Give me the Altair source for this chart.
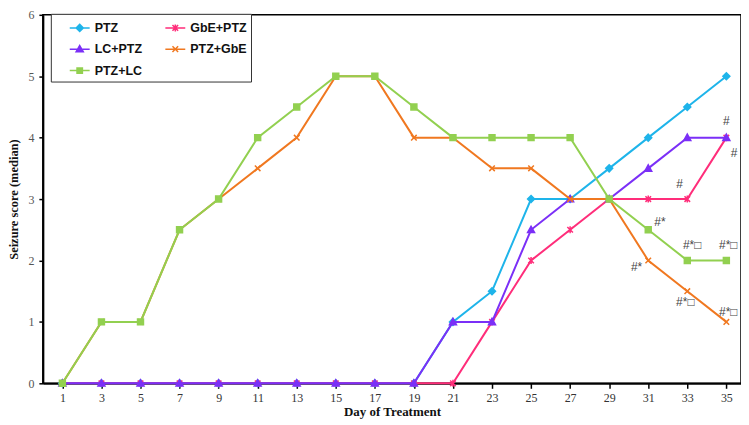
import altair as alt
import pandas as pd

days = list(range(1, 36, 2))
series_names = ["PTZ", "GbE+PTZ", "LC+PTZ", "PTZ+GbE", "PTZ+LC"]
ptz = [0, 0, 0, 0, 0, 0, 0, 0, 0, 0, 1, 1.5, 3, 3, 3.5, 4, 4.5, 5]
gbe_ptz = [0, 0, 0, 0, 0, 0, 0, 0, 0, 0, 0, 1, 2, 2.5, 3, 3, 3, 4]
lc_ptz = [0, 0, 0, 0, 0, 0, 0, 0, 0, 0, 1, 1, 2.5, 3, 3, 3.5, 4, 4]
ptz_gbe = [0, 1, 1, 2.5, 3, 3.5, 4, 5, 5, 4, 4, 3.5, 3.5, 3, 3, 2, 1.5, 1]
ptz_lc = [0, 1, 1, 2.5, 3, 4, 4.5, 5, 5, 4.5, 4, 4, 4, 4, 3, 2.5, 2, 2]
series_values = [ptz, gbe_ptz, lc_ptz, ptz_gbe, ptz_lc]

ann_x = [35, 35.4, 32.6, 31.6, 33.25, 35.1, 30.4, 32.9, 35.1]
ann_y = [4.27, 3.75, 3.24, 2.63, 2.25, 2.25, 1.9, 1.33, 1.16]
ann_text = ["#", "#", "#", "#*", "#*□", "#*□", "#*", "#*□", "#*□"]

colors = ["#1EB4EA", "#FF2D7A", "#7B2FF7", "#F07820", "#92D050"]

# marker paths for the plot (unit = 3.5px at size 49)
marker_paths = [
    "M0,-1L1,0L0,1L-1,0Z",
    "M-0.8,-0.8L0.8,0.8M-0.8,0.8L0.8,-0.8M0,-1V1",
    "M0,-1L1,0.8H-1Z",
    "M-0.8,-0.8L0.8,0.8M-0.8,0.8L0.8,-0.8",
    "M-0.85,-0.85H0.85V0.85H-0.85Z",
]
# legend symbol paths: line + marker (unit = 9px at size 324)
ln = "M0.556,0H2.778"
legend_paths = [
    ln + "M1.667,-0.4L2.067,0L1.667,0.4L1.267,0Z",
    ln + "M1.35,-0.32L1.98,0.32M1.35,0.32L1.98,-0.32M1.667,-0.4V0.4",
    ln + "M1.667,-0.4L2.067,0.3L1.267,0.3Z",
    ln + "M1.35,-0.32L1.98,0.32M1.35,0.32L1.98,-0.32",
    ln + "M1.367,-0.3H1.967V0.3H1.367Z",
]

rows = []
for name, vals in zip(series_names, series_values):
    for d, v in zip(days, vals):
        rows.append({"day": d, "score": v, "series": name})
df = pd.DataFrame(rows)
ann_df = pd.DataFrame({"x": ann_x, "y": ann_y, "t": ann_text})

x_enc = alt.X(
    "day:Q",
    scale=alt.Scale(domain=[0, 35.75], nice=False, zero=False),
    axis=alt.Axis(
        title="Day of Treatment",
        values=list(range(1, 36)),
        labelExpr="datum.value % 2 == 1 ? datum.label : ''",
        grid=False,
        tickSize=5,
        labelPadding=4,
        titlePadding=2,
        labelFont="Liberation Serif",
        labelFontSize=12,
        labelColor="#333333",
        titleFont="Liberation Serif",
        titleFontSize=13,
        titleFontWeight="bold",
        titleColor="#111111",
        domainColor="black",
        domainWidth=2,
        tickColor="black",
        tickWidth=1.5,
    ),
)
y_enc = alt.Y(
    "score:Q",
    scale=alt.Scale(domain=[0, 6], nice=False),
    axis=alt.Axis(
        title="Seizure score (median)",
        values=[0, 1, 2, 3, 4, 5, 6],
        format="d",
        grid=False,
        tickSize=4,
        labelPadding=5,
        titlePadding=7,
        labelFont="Liberation Serif",
        labelFontSize=12,
        labelColor="#555555",
        titleFont="Liberation Serif",
        titleFontSize=12.5,
        titleFontWeight="bold",
        titleColor="#111111",
        domainColor="black",
        domainWidth=2,
        tickColor="black",
        tickWidth=1.5,
    ),
)

color_scale = alt.Scale(domain=series_names, range=colors)

layers = []
for i, name in enumerate(series_names):
    sub = alt.Chart(df).transform_filter(alt.datum.series == name)
    line = sub.mark_line(strokeWidth=2, color=colors[i]).encode(x=x_enc, y=y_enc)
    pts = sub.mark_point(
        shape=marker_paths[i], size=49, filled=True, opacity=1,
        strokeWidth=1.5, fill=colors[i], stroke=colors[i],
    ).encode(x="day:Q", y="score:Q")
    layers += [line, pts]

leg = alt.Legend(
    title=None,
    orient="none",
    direction="horizontal",
    legendX=8,
    legendY=-1,
    columns=2,
    strokeColor="#333333",
    fillColor="white",
    padding=4,
    symbolSize=324,
    symbolStrokeWidth=1.5,
    symbolOpacity=1,
    labelOffset=20,
    columnPadding=8,
    rowPadding=4.5,
    labelFont="Liberation Sans",
    labelFontSize=12.5,
    labelFontWeight="bold",
    labelColor="#111111",
)
legend_layer = alt.Chart(df).transform_filter("false").mark_point(
    filled=True, opacity=1, strokeWidth=1.5
).encode(
    x="day:Q", y="score:Q",
    fill=alt.Fill("series:N", scale=color_scale, legend=leg),
    stroke=alt.Stroke("series:N", scale=color_scale, legend=leg),
    shape=alt.Shape("series:N", scale=alt.Scale(domain=series_names, range=legend_paths), legend=leg),
)

ann = alt.Chart(ann_df).mark_text(
    font="Liberation Sans", fontSize=12, color="#444444", align="center", baseline="middle"
).encode(x="x:Q", y="y:Q", text="t:N")

chart = alt.layer(*layers, ann, legend_layer).properties(
    width=701,
    height=370,
    padding={"left": 0, "top": 0, "right": 0, "bottom": 2},
    background="white",
).configure_view(stroke="black", strokeWidth=1.5)

chart.save("out.html", embed_options={"renderer": "svg", "actions": False})
